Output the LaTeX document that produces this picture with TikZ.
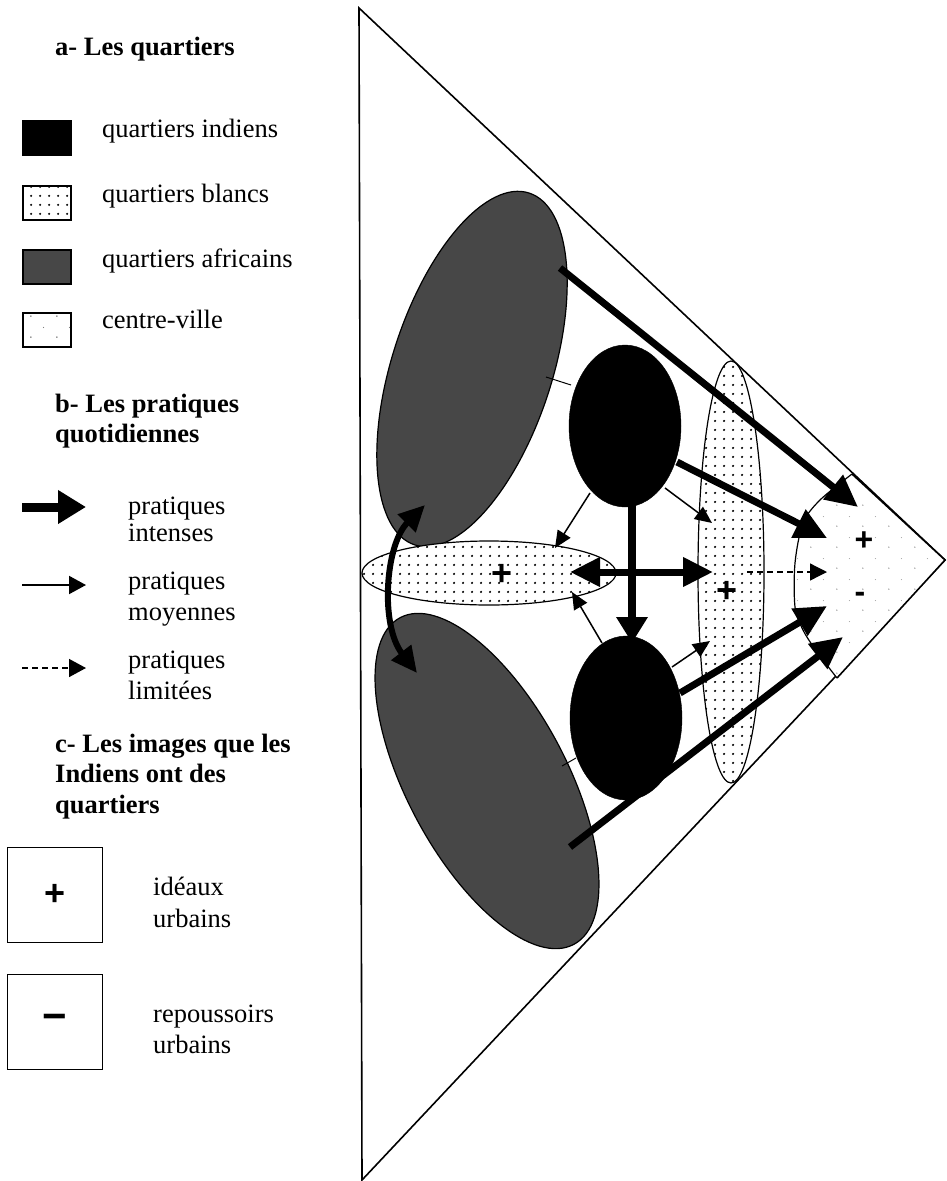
\documentclass[tikz,border=0pt]{standalone}
\usepackage{fontspec}
\setmainfont{Liberation Serif}
\newfontfamily\symfont{Liberation Sans}
\usetikzlibrary{shapes.geometric,arrows.meta,patterns}
\pgfdeclarepatternformonly{blancdots}{\pgfpointorigin}{\pgfpoint{9pt}{9pt}}{\pgfpoint{9pt}{9pt}}{\pgfpathcircle{\pgfpoint{4.5pt}{4.5pt}}{1.3pt}\pgfusepath{fill}}
\pgfdeclarepatternformonly{cvdots}{\pgfpointorigin}{\pgfpoint{26pt}{21pt}}{\pgfpoint{26pt}{21pt}}{\pgfpathcircle{\pgfpoint{5pt}{4pt}}{0.8pt}\pgfpathcircle{\pgfpoint{18pt}{14pt}}{0.6pt}\pgfusepath{fill}}
\tikzset{
  txt/.style={anchor=base west, inner sep=0pt, font=\fontsize{26.5}{30}\selectfont},
  hd/.style={anchor=base west, inner sep=0pt, font=\bfseries\fontsize{26.5}{30}\selectfont},
  afr/.style={ellipse, draw, line width=1.2pt, fill=black!72, inner sep=0pt, minimum width=160pt, minimum height=370pt},
  ind/.style={ellipse, draw, fill=black, inner sep=0pt},
  blanc/.style={ellipse, draw, line width=1.2pt, fill=white, postaction={pattern=blancdots}, inner sep=0pt},
  sign/.style={inner sep=0pt, font=\symfont\bfseries\fontsize{36}{36}\selectfont},
  thickarr/.style={line width=7pt, -{Triangle[length=32pt,width=30pt]}},
  dblarr/.style={line width=7pt, {Triangle[length=30pt,width=28pt]}-{Triangle[length=30pt,width=28pt]}},
  medarr/.style={line width=1.5pt, -{Triangle[length=17pt,width=15pt]}},
  dasharr/.style={line width=1.3pt, dash pattern=on 6pt off 4pt, -{Triangle[length=17pt,width=17pt]}},
  thinline/.style={line width=1pt},
  lbox/.style={draw, line width=1.5pt, anchor=north west, inner sep=0pt, minimum width=48pt, minimum height=34pt},
  sbox/.style={draw, line width=1.4pt, anchor=north west, inner sep=0pt, minimum width=95pt, minimum height=95pt}
}
\begin{document}
\begin{tikzpicture}[x=1pt,y=1pt]
\useasboundingbox (0,0) rectangle (946,-1181);
\fill[white] (0,0) rectangle (946,-1181);

% ---------- legend a ----------
\node[hd] (ha) at (55,-55) {a- Les quartiers};
\node[lbox, fill=black] (kInd) at (22,-120) {};
\node[txt] (tInd) at (102,-137) {quartiers indiens};
\node[lbox, fill=white, postaction={pattern=blancdots}] (kBl) at (22,-185) {};
\node[txt] (tBl) at (102,-202) {quartiers blancs};
\node[lbox, fill=black!72] (kAf) at (22,-249) {};
\node[txt] (tAf) at (102,-267) {quartiers africains};
\node[lbox, fill=white, postaction={pattern=cvdots, pattern color=black!55}] (kCv) at (22,-312) {};
\node[txt] (tCv) at (102,-328) {centre-ville};

% ---------- legend b ----------
\node[hd] (hb1) at (55,-412) {b- Les pratiques};
\node[hd] (hb2) at (55,-442) {quotidiennes};
\coordinate (l1s) at (22,-507); \coordinate (l1e) at (86,-507);
\draw[line width=9pt, -{Triangle[length=28pt,width=32pt]}] (l1s) -- (l1e);
\node[txt] (p1a) at (128,-514) {pratiques};
\node[txt] (p1b) at (128,-541) {intenses};
\coordinate (l2s) at (22,-585); \coordinate (l2e) at (86,-585);
\draw[line width=2pt, -{Triangle[length=17pt,width=18pt]}] (l2s) -- (l2e);
\node[txt] (p2a) at (128,-589) {pratiques};
\node[txt] (p2b) at (128,-620) {moyennes};
\coordinate (l3s) at (22,-668); \coordinate (l3e) at (86,-668);
\draw[line width=1.5pt, dash pattern=on 6pt off 4pt, -{Triangle[length=17pt,width=18pt]}] (l3s) -- (l3e);
\node[txt] (p3a) at (128,-668) {pratiques};
\node[txt] (p3b) at (128,-699) {limitées};

% ---------- legend c ----------
\node[hd] (hc1) at (55,-752) {c- Les images que les};
\node[hd] (hc2) at (55,-782) {Indiens ont des};
\node[hd] (hc3) at (55,-813) {quartiers};
\node[sbox] (kPlus) at (7,-847) {};
\node[sign, font=\symfont\bfseries\fontsize{36}{36}\selectfont] (sPlus) at (kPlus.center) {+};
\node[txt] (iA) at (153,-895) {idéaux};
\node[txt] (iB) at (153,-927) {urbains};
\node[sbox] (kMinus) at (7,-974) {};
\node[sign, font=\symfont\bfseries\fontsize{42}{42}\selectfont] (sMinus) at (kMinus.center) {−};
\node[txt] (rA) at (153,-1022) {repoussoirs};
\node[txt] (rB) at (153,-1053) {urbains};

% ---------- triangle ----------
\draw[line width=1.6pt, fill=white] (359,-8) -- (945,-560) -- (362,-1180) -- cycle;

% centre-ville
\fill[white, postaction={pattern=cvdots, pattern color=black!35}]
  plot[smooth] coordinates {(852,-474) (820,-500) (803,-523) (795,-563) (795,-607) (803,-630) (817,-652) (837,-678)}
  -- (945,-560) -- cycle;
\draw[line width=1.2pt] plot[smooth] coordinates {(852,-474) (820,-500) (803,-523) (795,-563) (795,-607) (803,-630) (817,-652) (837,-678)};
\draw[line width=1.6pt] (852,-474) -- (945,-560) -- (837,-678);

% quartiers africains
\node[afr, rotate=-18] (afU) at (472,-369) {};
\node[afr, rotate=28] (afL) at (487,-781) {};

% quartiers blancs
\node[blanc, minimum width=254pt, minimum height=64pt] (blL) at (489,-573) {};
\node[blanc, minimum width=66pt, minimum height=422pt] (blR) at (731,-572) {};

% quartiers indiens
\node[ind, minimum width=112pt, minimum height=162pt] (inU) at (625,-426) {};
\node[ind, minimum width=112pt, minimum height=164pt] (inL) at (626,-718) {};

% signs
\node[sign] (pL) at (502,-575) {+};
\node[sign] (pR) at (727,-592) {+};
\node[sign, font=\symfont\bfseries\fontsize{32}{32}\selectfont] (pCv) at (864,-541) {+};
\node[sign, font=\symfont\bfseries\fontsize{32}{32}\selectfont] (mCv) at (860,-597) {-};

% connector points
\coordinate (a1s) at (560,-268); \coordinate (cv1) at (858,-507);
\coordinate (a2s) at (677,-462); \coordinate (cv2) at (827,-538);
\coordinate (a3s) at (665,-488); \coordinate (br1) at (712,-523);
\coordinate (a4s) at (590,-493); \coordinate (bl1) at (555,-548);
\coordinate (a5s) at (632,-505); \coordinate (a5e) at (632,-643);
\coordinate (hL) at (570,-572);  \coordinate (hR) at (713,-572);
\coordinate (dS) at (747,-572);  \coordinate (cv3) at (827,-572);
\coordinate (a8s) at (602,-643); \coordinate (bl2) at (572,-592);
\coordinate (a9s) at (672,-667); \coordinate (br2) at (710,-641);
\coordinate (a10s) at (680,-693); \coordinate (cv4) at (827,-606);
\coordinate (a11s) at (570,-847); \coordinate (cv5) at (843,-637);
\coordinate (cU) at (425,-505); \coordinate (cL) at (417,-673);
\coordinate (t1a) at (546,-377); \coordinate (t1b) at (571,-385);
\coordinate (t2a) at (562,-766); \coordinate (t2b) at (576,-758);

% connectors
\draw[thinline] (t1a) -- (t1b);
\draw[thinline] (t2a) -- (t2b);
\draw[medarr] (a3s) -- (br1);
\draw[medarr] (a4s) -- (bl1);
\draw[medarr] (a8s) -- (bl2);
\draw[medarr] (a9s) -- (br2);
\draw[dasharr] (dS) -- (cv3);
\draw[thickarr] (a1s) -- (cv1);
\draw[thickarr] (a2s) -- (cv2);
\draw[thickarr] (a10s) -- (cv4);
\draw[thickarr] (a11s) -- (cv5);
\draw[line width=8pt, -{Triangle[length=26pt,width=30pt]}] (a5s) -- (a5e);
\draw[dblarr] (hL) -- (hR);
\draw[line width=6pt, {Triangle[length=26pt,width=24pt]}-{Triangle[length=26pt,width=24pt]}] (cU) .. controls (385,-545) and (380,-625) .. (cL);
\end{tikzpicture}
\end{document}
